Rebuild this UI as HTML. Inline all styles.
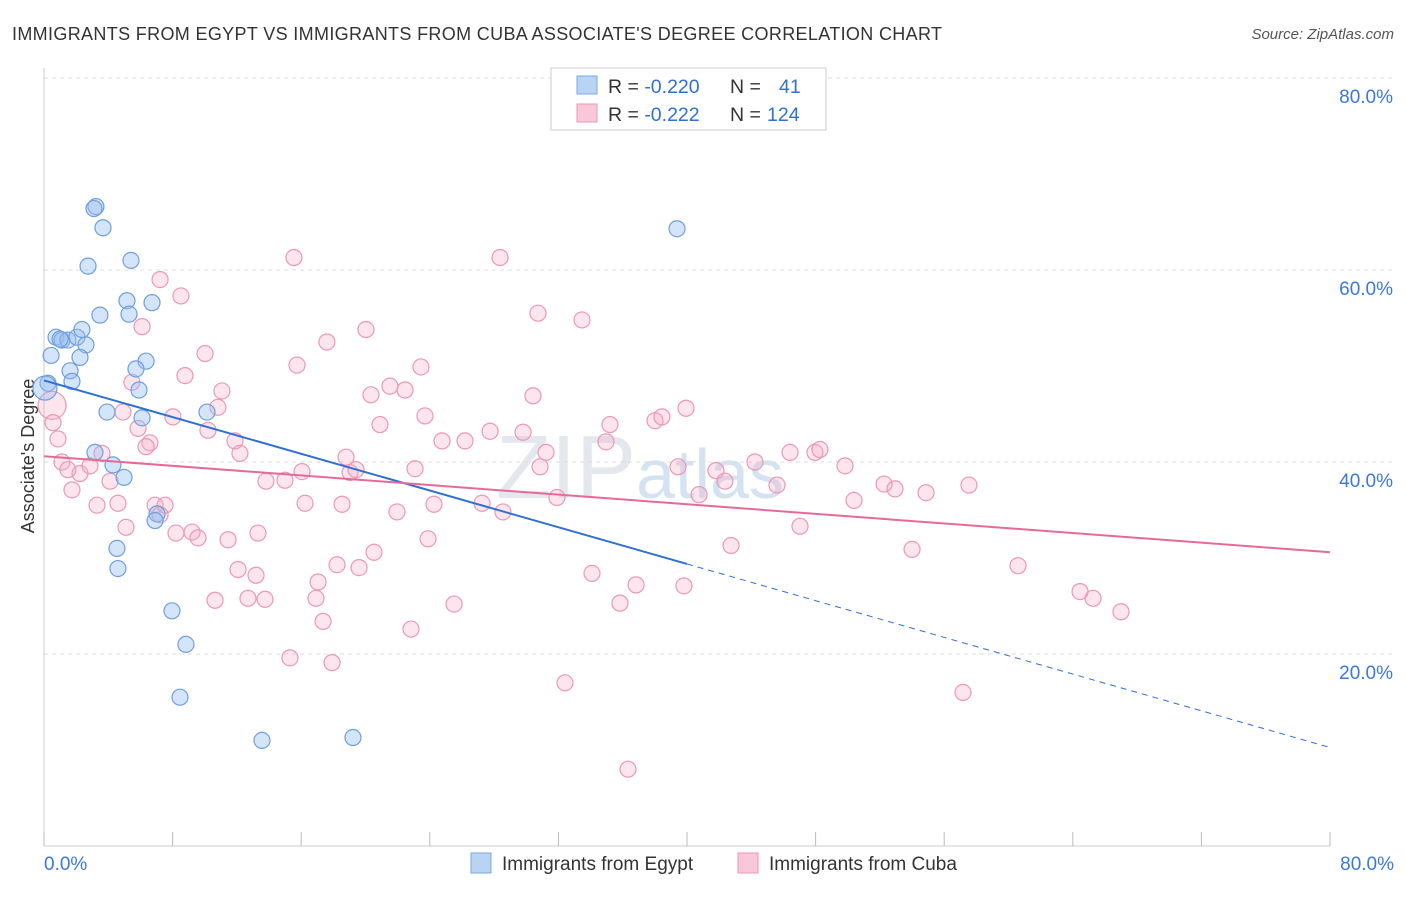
<!DOCTYPE html>
<html><head><meta charset="utf-8"><style>
body{margin:0;background:#fff;font-family:"Liberation Sans",sans-serif}
svg text{font-family:"Liberation Sans",sans-serif}
</style></head><body>
<svg id="chart" width="1406" height="892" xmlns="http://www.w3.org/2000/svg">
<text x="12" y="40" font-size="18" fill="#333" textLength="930" lengthAdjust="spacing">IMMIGRANTS FROM EGYPT VS IMMIGRANTS FROM CUBA ASSOCIATE'S DEGREE CORRELATION CHART</text>
<text x="1394" y="39" font-size="15" fill="#555" text-anchor="end" font-style="italic">Source: ZipAtlas.com</text>
<text x="640" y="498" font-size="90" fill="#e4e8ee" font-family="Liberation Serif" text-anchor="middle">ZIP<tspan font-family="Liberation Sans" font-size="70" fill="#d4e2f2">atlas</tspan></text>
<g id="grid"></g>
<g id="axes"></g>
<text transform="translate(34,456) rotate(-90)" font-size="18" fill="#333" text-anchor="middle">Associate's Degree</text>
<g id="marks"></g>
<g id="trends"></g>
<g>
<rect x="551" y="68" width="275" height="62" fill="#fff" stroke="#ccc"/>
<rect x="577" y="76" width="20" height="18" fill="#b8d3f4" stroke="#7aa8e0"/>
<rect x="577" y="104" width="20" height="18" fill="#f8c8d8" stroke="#eb98b5"/>
<text x="608" y="93" font-size="19.5" fill="#333">R = <tspan fill="#2f6fd6">-0.220</tspan><tspan x="730">N =</tspan><tspan x="779" fill="#2f6fd6">41</tspan></text>
<text x="608" y="121" font-size="19.5" fill="#333">R = <tspan fill="#2f6fd6"> -0.222</tspan><tspan x="730">N =</tspan><tspan x="767" fill="#2f6fd6">124</tspan></text>
</g>
<g>
<rect x="471" y="853" width="20" height="20" fill="#b8d3f4" stroke="#7aa8e0"/>
<text x="502" y="870" font-size="19" fill="#333">Immigrants from Egypt</text>
<rect x="738" y="853" width="20" height="20" fill="#f8c8d8" stroke="#eb98b5"/>
<text x="769" y="870" font-size="19" fill="#333">Immigrants from Cuba</text>
</g>
</svg>
<script>
const xTicks=[0,10,20,30,40,50,60,70,80];
const yTicks=[20,40,60,80];
const egyptX=[3.23,3.11,3.67,2.74,5.41,5.16,6.72,3.48,5.29,0.75,1.12,1.49,2.05,2.36,2.61,0.44,2.24,6.35,5.72,1.62,1.74,0.25,5.91,3.92,6.10,10.14,3.17,4.29,4.98,7.03,6.91,4.54,4.60,7.96,8.83,8.46,13.56,19.22,39.38,0.06,1.0];
const egyptY=[66.6,66.4,64.4,60.4,61.0,56.8,56.6,55.3,55.4,53.0,52.7,52.7,53.0,53.8,52.2,51.1,50.9,50.5,49.7,49.5,48.4,48.2,47.5,45.2,44.6,45.2,41.0,39.7,38.4,34.6,33.9,31.0,28.9,24.5,21.0,15.5,11.0,11.3,64.3,47.7,52.8];
const cubaX=[0.5,0.56,0.87,1.12,1.49,1.74,2.24,2.86,3.30,3.61,4.11,4.60,4.91,5.10,5.47,5.85,6.10,6.59,6.35,6.91,7.22,7.53,7.22,8.02,8.21,8.52,8.77,9.21,9.58,10.02,10.20,10.64,10.82,11.07,11.45,11.88,12.19,12.07,12.69,13.19,13.31,13.75,13.81,14.99,15.30,15.55,15.74,16.24,16.05,16.92,17.05,17.36,17.60,17.92,18.23,18.54,18.79,19.04,19.41,19.60,20.03,20.53,20.90,20.34,21.52,21.96,22.46,22.83,23.08,23.45,23.70,23.89,24.26,24.76,25.51,26.19,27.75,27.25,28.37,28.55,29.80,30.42,30.73,30.86,31.23,31.91,32.41,33.47,34.09,34.96,35.21,35.83,36.33,36.83,38.01,38.44,39.44,39.81,39.94,40.75,41.80,42.36,42.74,44.23,45.60,46.41,47.03,47.96,48.27,49.83,50.39,52.26,52.94,54.00,54.87,57.17,57.54,60.59,64.45,65.26,67.00];
const cubaY=[45.9,44.1,42.4,40.0,39.2,37.1,38.8,39.6,35.5,40.9,38.0,35.7,45.2,33.2,48.3,43.5,54.1,42.0,41.6,35.5,59.0,35.5,34.5,44.7,32.6,57.3,49.0,32.7,32.1,51.3,43.3,25.6,45.7,47.4,31.9,42.2,40.9,28.8,25.8,28.2,32.6,25.7,38.0,38.1,19.6,61.3,50.1,35.7,39.0,25.8,27.5,23.4,52.5,19.1,29.3,35.6,40.5,38.9,39.2,29.0,53.8,30.6,43.9,47.0,47.9,34.8,47.5,22.6,39.3,49.9,44.8,32.0,35.6,42.2,25.2,42.2,43.2,35.7,61.3,34.8,43.1,46.9,55.5,39.5,41.0,36.3,17.0,54.8,28.4,42.1,43.9,25.3,8.0,27.2,44.3,44.7,39.5,27.1,45.6,36.6,39.1,38.0,31.3,40.0,37.6,41.0,33.3,41.0,41.3,39.6,36.0,37.7,37.2,30.9,36.8,16.0,37.6,29.2,26.5,25.8,24.4];
const egyptTrend=[48.5,-0.478];
const cubaTrend=[40.6,-0.125];
const NS='http://www.w3.org/2000/svg';
const sx=v=>44+v/80*1286, sy=v=>846-v/80*768;
function mk(tag,attrs,parent){const e=document.createElementNS(NS,tag);for(const k in attrs)e.setAttribute(k,attrs[k]);parent.appendChild(e);return e;}
const grid=document.getElementById('grid'),axes=document.getElementById('axes'),marks=document.getElementById('marks'),trends=document.getElementById('trends');
yTicks.forEach(t=>{
 const l=mk('line',{x1:44,x2:1394,y1:sy(t),y2:sy(t),stroke:'#ddd','stroke-dasharray':'4,4'},grid);
 
 
 const tx=mk('text',{x:1393,y:sy(t)+25,'font-size':19,fill:'#3b78d8','text-anchor':'end'},axes);
 tx.textContent=t.toFixed(1)+'%';
 
 
});
mk('line',{x1:44,x2:44,y1:68,y2:846,stroke:'#ccc'},axes);
mk('line',{x1:44,x2:1330,y1:846,y2:846,stroke:'#ccc'},axes);
for(let i=0;i<=10;i++){const v=i*8;const t=mk('line',{x1:sx(v),x2:sx(v),y1:832,y2:846,stroke:'#bbb'},axes);
 
 }
[[0,'start',44],[80,'end',1394]].forEach(([v,a,x])=>{const tx=mk('text',{x:x,y:870,'font-size':19,fill:'#3b78d8','text-anchor':a},axes);tx.textContent=v.toFixed(1)+'%';
 
 });
cubaX.forEach((x,i)=>{const c=mk('circle',{cx:sx(x),cy:sy(cubaY[i]),r:i===0?14:8,fill:'rgba(244,170,195,0.3)',stroke:'#eb98b5','stroke-width':1.2},marks);
 
 });
egyptX.forEach((x,i)=>{const c=mk('circle',{cx:sx(x),cy:sy(egyptY[i]),r:i===39?12:8,fill:'rgba(150,190,240,0.4)',stroke:'#6f9fdc','stroke-width':1.2},marks);
 
 });
const ef=x=>egyptTrend[0]+egyptTrend[1]*x, cf=x=>cubaTrend[0]+cubaTrend[1]*x;
let l=mk('line',{x1:sx(0),y1:sy(ef(0)),x2:sx(40),y2:sy(ef(40)),stroke:'#2f6fd6','stroke-width':2},trends);


l=mk('line',{x1:sx(40),y1:sy(ef(40)),x2:sx(80),y2:sy(ef(80)),stroke:'#2f6fd6','stroke-width':1,'stroke-dasharray':'6,5'},trends);


l=mk('line',{x1:sx(0),y1:sy(cf(0)),x2:sx(80),y2:sy(cf(80)),stroke:'#e66a97','stroke-width':2},trends);


</script>
</body></html>
